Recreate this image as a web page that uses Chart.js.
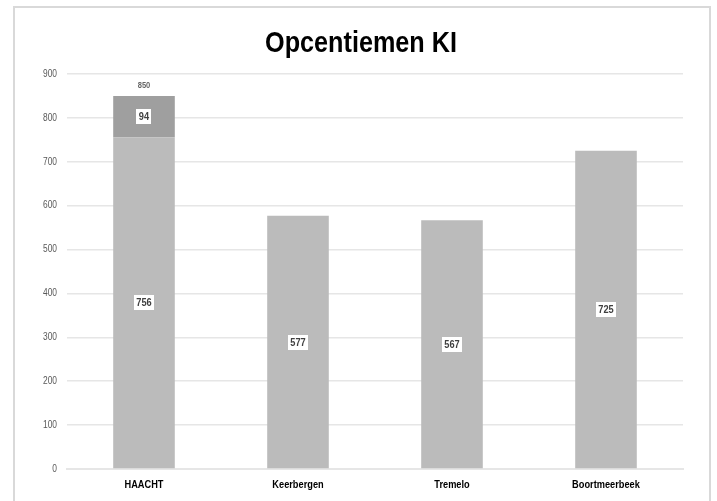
<!DOCTYPE html>
<html>
<head>
<meta charset="utf-8">
<script src="https://cdn.jsdelivr.net/npm/chart.js@4"></script>
<style>
  html, body { margin: 0; padding: 0; background: #fff; }
  #wrap { position: relative; width: 717px; height: 501px; overflow: hidden; }
  #frame { position: absolute; left: 13px; top: 6px; width: 698px; height: 520px; border: 2px solid #d9d9d9; box-sizing: border-box; }
  canvas { position: absolute; left: 0; top: 0; }
</style>
</head>
<body>
<div id="wrap">
  <div id="frame"></div>
  <canvas id="c" width="717" height="501"></canvas>
</div>
<script>
const title = "Opcentiemen KI";
const categories = ["HAACHT", "Keerbergen", "Tremelo", "Boortmeerbeek"];
const baseValues = [756, 577, 567, 725];
const extraValues = [94, null, null, null];
const totalLabels = ["850", null, null, null];
const yTicks = [0, 100, 200, 300, 400, 500, 600, 700, 800, 900];

const FONT = "'Liberation Sans', Arial, sans-serif";
const NARROW = 0.84;

function narrowText(ctx, txt, x, y, align) {
  ctx.save();
  ctx.translate(x, y);
  ctx.scale(NARROW, 1);
  ctx.textAlign = align || 'center';
  ctx.fillText(txt, 0, 0);
  ctx.restore();
}

const drawPlugin = {
  id: 'customText',
  afterDraw(chart) {
    const ctx = chart.ctx;
    const area = chart.chartArea;
    ctx.save();
    // title
    ctx.font = "bold 30px " + FONT;
    ctx.fillStyle = '#000000';
    ctx.textBaseline = 'alphabetic';
    narrowText(ctx, title, (area.left + area.right) / 2 - 14, 52, 'center');
    // x category labels
    const xs = chart.scales.x;
    ctx.font = "bold 11px " + FONT;
    ctx.fillStyle = '#000000';
    ctx.textBaseline = 'middle';
    categories.forEach((c, i) => {
      narrowText(ctx, c, xs.getPixelForTick(i), area.bottom + 16, 'center');
    });
    // y tick labels
    const ys = chart.scales.y;
    ctx.font = "10px " + FONT;
    ctx.fillStyle = '#595959';
    ctx.textBaseline = 'middle';
    yTicks.forEach(v => {
      narrowText(ctx, String(v), 57, ys.getPixelForValue(v), 'right');
    });
    // data labels
    chart.data.datasets.forEach((ds, di) => {
      const meta = chart.getDatasetMeta(di);
      meta.data.forEach((bar, i) => {
        const v = ds.data[i];
        if (v === null || v === undefined) return;
        const cx = bar.x;
        const cy = (bar.y + bar.base) / 2;
        ctx.font = "bold 11px " + FONT;
        const txt = String(v);
        const w = ctx.measureText(txt).width * NARROW + 5;
        const h = 15;
        ctx.fillStyle = '#ffffff';
        ctx.fillRect(Math.round(cx - w / 2), Math.round(cy - h / 2), Math.round(w), h);
        ctx.fillStyle = '#404040';
        ctx.textBaseline = 'middle';
        narrowText(ctx, txt, cx, cy + 0.5, 'center');
      });
    });
    // totals
    const topMeta = chart.getDatasetMeta(1);
    totalLabels.forEach((t, i) => {
      if (!t) return;
      const bar = topMeta.data[i];
      ctx.font = "bold 9px " + FONT;
      ctx.fillStyle = '#666666';
      ctx.textBaseline = 'middle';
      narrowText(ctx, t, bar.x, bar.y - 10, 'center');
    });
    ctx.restore();
  }
};

new Chart(document.getElementById('c'), {
  type: 'bar',
  data: {
    labels: categories,
    datasets: [
      { label: 'basis', data: baseValues, backgroundColor: '#bbbbbb', borderWidth: 0, barPercentage: 0.8, categoryPercentage: 0.5 },
      { label: 'extra', data: extraValues, backgroundColor: '#9f9f9f', borderWidth: 0, barPercentage: 0.8, categoryPercentage: 0.5 }
    ]
  },
  options: {
    responsive: false,
    animation: false,
    devicePixelRatio: 1,
    layout: { padding: { left: 0, right: 34, top: 74, bottom: 24 } },
    plugins: {
      legend: { display: false },
      tooltip: { enabled: false },
      title: { display: false }
    },
    scales: {
      x: {
        stacked: true,
        grid: { display: false },
        border: { display: true, color: '#e6e6e6', width: 2 },
        ticks: { display: false }
      },
      y: {
        stacked: true,
        min: 0,
        max: 900,
        afterBuildTicks(axis) { axis.ticks = yTicks.map(v => ({ value: v })); },
        afterFit(axis) { axis.width = 67; },
        grid: { color: '#e6e6e6', lineWidth: 1.5, drawTicks: false },
        border: { display: false },
        ticks: { display: false }
      }
    }
  },
  plugins: [drawPlugin]
});
</script>
</body>
</html>
